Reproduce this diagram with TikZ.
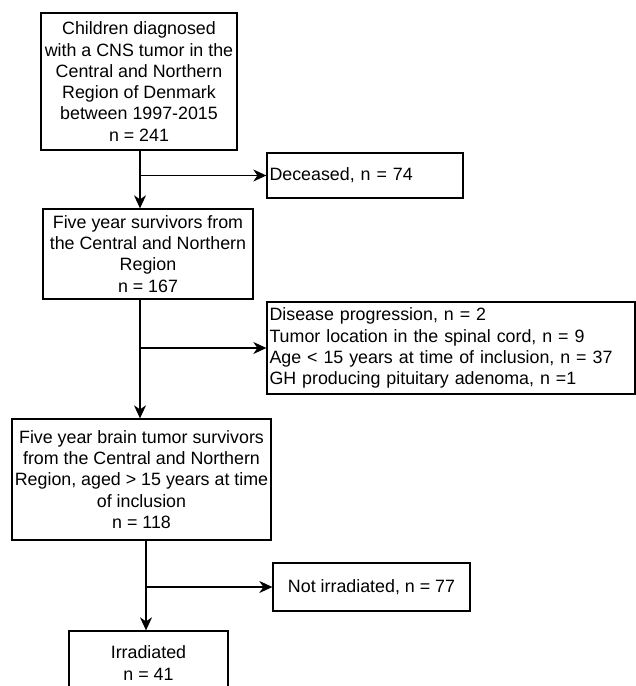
\documentclass[tikz,border=0pt]{standalone}
\usepackage{fontspec}
\setmainfont{Liberation Sans}
\usetikzlibrary{arrows.meta}
\begin{document}
\begin{tikzpicture}[x=1bp,y=-1bp,
  box/.style={draw, line width=1.3bp, inner sep=0pt, align=center, font=\fontsize{17.9}{21.3}\selectfont},
  lbox/.style={box, align=left, inner xsep=2.5bp},
  arr/.style={line width=1.3bp, -{Stealth[length=13bp,width=12bp,inset=4bp]}},
  ln/.style={line width=1.3bp}]
\clip (0,0) rectangle (636,686);
\node[box, minimum width=196bp, minimum height=137bp] (b1) at (139,81.5)
  {Children diagnosed\\with a CNS tumor in the\\Central and Northern\\Region of Denmark\\between 1997-2015\\n = 241};
\node[lbox, text width=191bp, minimum height=45bp] (dec) at (365,175.5) {Deceased, n = 74};
\node[box, minimum width=210bp, minimum height=90bp] (b2) at (148,254)
  {Five year survivors from\\the Central and Northern\\Region\\n = 167};
\node[lbox, text width=363bp, minimum height=92bp] (exc) at (451,348)
  {Disease progression, n = 2\\Tumor location in the spinal cord, n = 9\\Age < 15 years at time of inclusion, n = 37\\GH producing pituitary adenoma, n =1};
\node[box, minimum width=259bp, minimum height=121bp] (b3) at (141.5,479.5)
  {Five year brain tumor survivors\\from the Central and Northern\\Region, aged > 15 years at time\\of inclusion\\n = 118};
\node[box, minimum width=197bp, minimum height=48bp] (nir) at (371.5,587) {Not irradiated, n = 77};
\node[box, minimum width=159bp, minimum height=64bp] (irr) at (148.5,663) {Irradiated\\n = 41};
\coordinate (t1) at (140,0);
\coordinate (t3) at (146,0);
\draw[arr] (b1.south -| t1) -- (b2.north -| t1);
\draw[arr] (dec.west -| t1) -- (dec.west);
\draw[arr] (b2.south -| t1) -- (b3.north -| t1);
\draw[arr] (exc.west -| t1) -- (exc.west);
\draw[arr] (b3.south -| t3) -- (irr.north -| t3);
\draw[arr] (nir.west -| t3) -- (nir.west);
\end{tikzpicture}
\end{document}
